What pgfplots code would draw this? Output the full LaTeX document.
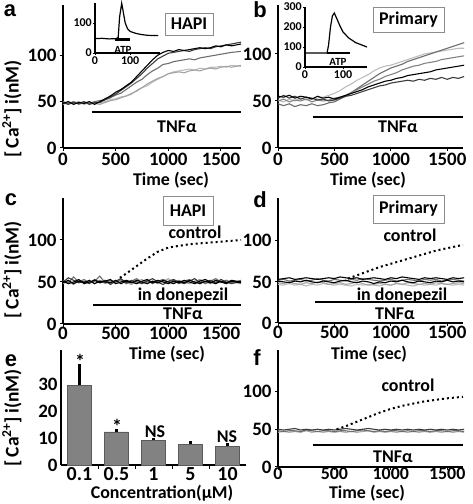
\documentclass[border=0pt]{standalone}
\usepackage{pgfplots}
\pgfplotsset{compat=1.18}
\usepackage{pgfplotstable}
\usepackage{fontspec}
\setmainfont{Carlito}
\newfontfamily\letterfont{Liberation Sans}
\newcommand{\fs}[1]{\fontsize{#1}{#1}\selectfont\bfseries}
\definecolor{g1}{HTML}{3C3C3C}
\definecolor{g2}{HTML}{6E6E6E}
\definecolor{g3}{HTML}{A4A4A4}
\definecolor{g4}{HTML}{BDBDBD}
\definecolor{barg}{HTML}{828282}
\definecolor{boxg}{HTML}{8C8C8C}

\pgfplotstableread{
t k d m la lb
0 48 49 50 47 49
50 50 47 48 49 47
100 47 49 50 48 50
150 49 48 47 50 48
200 48 50 49 47 49
250 50 47 48 49 47
300 47 49 50 48 48
350 50 49 51 47 49
400 53 52 52 49 50
450 56 55 54 51 52
500 60 58 57 52 53
550 63 62 59 54 55
600 67 66 63 56 56
650 71 70 67 58 59
700 77 75 71 62 61
750 83 80 74 65 65
800 89 86 79 69 67
850 95 91 83 72 71
900 100 96 86 75 74
950 103 99 90 77 77
1000 105 102 91 80 80
1050 104 103 93 81 82
1100 106 104 94 82 83
1150 105 105 95 81 84
1200 106 104 96 83 85
1250 107 106 95 84 84
1300 108 107 97 83 86
1350 107 108 98 85 85
1400 108 107 99 86 87
1450 110 109 100 85 87
1500 109 110 101 87 88
1550 111 111 102 88 87
1600 110 112 103 87 89
1690 112 114 104 89 88
}\tabA

\pgfplotstableread{
t k d m g l
0 55 53 47 50 51
50 54 56 45 52 49
100 56 53 47 49 52
150 53 55 44 51 50
200 55 52 46 50 53
250 54 54 45 52 51
300 52 53 47 49 52
350 55 51 45 51 53
400 53 52 46 50 54
450 54 50 48 51 56
500 52 51 49 53 58
550 54 53 52 54 61
600 56 55 55 56 65
650 58 56 59 59 68
700 60 58 63 62 72
750 62 60 67 65 75
800 65 62 71 68 78
850 67 64 75 71 82
900 69 66 79 73 85
950 71 67 82 76 87
1000 72 69 85 78 88
1050 74 70 87 80 90
1100 75 71 89 83 92
1150 77 72 92 85 94
1200 78 71 94 87 96
1250 79 73 96 88 98
1300 80 72 98 90 100
1350 81 74 100 91 101
1400 83 73 102 92 102
1450 84 75 104 94 103
1500 85 73 106 95 104
1550 86 75 108 96 105
1600 87 74 110 97 106
1650 88 76 112 98 106
}\tabB

\pgfplotstableread{
t ka kb d ga gb
0 49 51 50 52 48
50 52 48 55 49 51
100 48 50 52 56 47
150 51 53 49 50 52
200 49 48 51 53 49
250 52 50 48 49 51
300 48 52 53 51 48
350 51 49 50 57 52
400 50 51 52 49 48
450 49 53 47 52 51
500 52 48 51 50 49
550 48 50 54 53 52
600 51 52 49 48 50
650 49 50 52 51 47
700 52 48 50 54 51
750 50 51 48 49 53
800 48 53 51 52 49
850 51 49 54 48 51
900 49 52 50 51 48
950 52 50 47 53 51
1000 50 48 51 50 54
1050 48 51 53 52 49
1100 51 49 50 48 52
1150 49 52 48 51 50
1200 52 50 51 53 48
1250 50 48 54 49 51
1300 48 51 49 52 53
1350 51 53 50 48 50
1400 49 50 52 51 48
1450 52 48 49 54 51
1500 50 51 53 50 49
1550 48 49 50 52 52
1600 51 52 48 49 50
1690 49 50 51 52 48
}\tabC

\pgfplotstableread{
t ka kb ga gb gc
0 53 51 49 47 52
50 54 50 48 46 53
100 55 49 50 48 51
150 53 51 48 46 52
200 54 50 47 47 53
250 55 52 49 45 51
300 54 50 48 47 52
350 53 49 50 46 54
400 54 51 49 48 52
450 55 50 47 47 51
500 54 49 48 46 53
550 56 51 49 47 52
600 55 52 47 46 51
650 54 50 48 45 53
700 55 49 50 47 52
750 53 51 48 46 54
800 54 50 46 47 53
850 55 48 47 46 52
900 54 50 48 45 51
950 53 49 47 47 52
1000 55 51 46 46 53
1050 54 50 48 48 51
1100 56 52 47 47 52
1150 55 50 49 46 53
1200 54 49 48 45 52
1250 53 51 47 47 51
1300 55 50 48 46 53
1350 54 49 47 47 52
1400 55 51 49 46 53
1450 54 50 48 48 51
1500 53 52 47 47 52
1550 55 50 48 46 53
1600 54 51 49 47 52
1650 55 50 48 46 51
}\tabD

\pgfplotstableread{
t k d g
0 50 48 46
50 49 47 47
100 50 48 46
150 51 48 47
200 49 47 46
250 50 49 48
300 49 48 46
350 50 47 47
400 49 48 46
450 50 48 47
500 49 47 46
550 50 48 47
600 51 48 46
650 50 47 47
700 49 48 46
750 50 49 47
800 51 48 48
850 50 47 46
900 49 48 47
950 50 47 46
1000 49 48 47
1050 50 48 46
1100 49 47 47
1150 50 48 46
1200 49 47 47
1250 50 48 46
1300 49 48 47
1350 50 47 46
1400 49 48 47
1450 50 48 46
1500 49 47 47
1550 50 48 46
1600 49 48 47
1650 50 47 46
}\tabF

\pgfplotstableread{
x y err
0 29.8 7.9
1 12.4 0.9
2 9.3 0.8
3 7.7 1.1
4 7.1 1.0
}\tabE

\pgfplotsset{
 panel/.style={scale only axis, anchor=south west, axis lines=left,
   axis line style={line width=2.6bp,-}, tick style={black, line width=1bp},
   tick align=outside, major tick length=3bp, xmin=0, ymin=0,
   xtick={0,500,1000,1500}, ytick={0,50,100},
   tick label style={font=\fs{19}},
   /pgf/number format/assume math mode=true,
   /pgf/number format/set thousands separator={},
   xticklabel style={yshift=1bp}, clip=false},
 inset/.style={scale only axis, anchor=south west, axis lines=left,
   axis line style={line width=1.4bp,-}, tick style={black, line width=0.8bp},
   tick align=outside, major tick length=2bp, xmin=0, ymin=0,
   tick label style={font=\fs{12}, inner sep=1bp},
   /pgf/number format/assume math mode=true, clip=false},
 tr/.style={line width=1.1bp},
 ctrl/.style={black, line width=2bp, dash pattern=on 2bp off 3bp},
 tnf/.style={black, line width=1.6bp},
}

\begin{document}
\begin{tikzpicture}
\path[use as bounding box] (0,0) rectangle (473bp,504bp);

% ---------- a
\begin{axis}[panel, at={(63bp,356bp)}, width=178bp, height=143bp, xmax=1690, ymax=154]
\addplot[tr, g4] table[x=t,y=lb]{\tabA};
\addplot[tr, g3] table[x=t,y=la]{\tabA};
\addplot[tr, g2] table[x=t,y=m]{\tabA};
\addplot[tr, g1] table[x=t,y=d]{\tabA};
\addplot[tr, black] table[x=t,y=k]{\tabA};
\addplot[tnf] coordinates {(275,38.7) (1690,38.7)};
\end{axis}
\begin{axis}[inset, at={(95bp,451bp)}, width=65bp, height=50bp, xmax=185, ymax=167, xtick={0,100}, ytick={0,100}]
\addplot[black, line width=1.2bp] coordinates {(0,48)(20,49)(40,47)(60,48)(66,52)(70,120)(76,166)(80,140)(86,100)(93,80)(100,72)(115,66)(130,62)(150,59)(180,58)};
\addplot[black, line width=2.5bp] coordinates {(57,45)(100,45)};
\end{axis}

% ---------- b
\begin{axis}[panel, at={(278bp,356bp)}, width=185bp, height=143bp, xmax=1640, ymax=152]
\addplot[tr, g4] table[x=t,y=l]{\tabB};
\addplot[tr, g2] table[x=t,y=m]{\tabB};
\addplot[tr, g3!80!black] table[x=t,y=g]{\tabB};
\addplot[tr, g1] table[x=t,y=d]{\tabB};
\addplot[tr, black] table[x=t,y=k]{\tabB};
\addplot[tnf] coordinates {(310,33) (1640,33)};
\end{axis}
\begin{axis}[inset, at={(305bp,437bp)}, width=62bp, height=60bp, xmax=163, ymax=300, xtick={0,100}, ytick={0,100,200,300}]
\addplot[black, line width=1.2bp] coordinates {(0,70)(58,70)(62,110)(67,200)(72,255)(77,270)(84,240)(92,205)(100,175)(115,145)(133,122)(163,100)};
\addplot[black, line width=1.2bp] coordinates {(58,70)(118,70)};
\end{axis}

% ---------- c
\begin{axis}[panel, at={(63bp,180bp)}, width=178bp, height=126bp, xmax=1690, ymax=150,
  xticklabel style={yshift=2bp}]
\addplot[tr, g3] table[x=t,y=gb]{\tabC};
\addplot[tr, g2] table[x=t,y=ga]{\tabC};
\addplot[tr, g1] table[x=t,y=d]{\tabC};
\addplot[tr, black] table[x=t,y=kb]{\tabC};
\addplot[tr, black] table[x=t,y=ka]{\tabC};
\addplot[ctrl] coordinates {(540,55)(600,60)(700,69)(800,78)(900,86)(1000,91)(1100,93)(1200,95)(1300,96)(1400,97)(1500,98)(1690,100)};
\addplot[tnf] coordinates {(285,22.6) (1690,22.6)};
\end{axis}

% ---------- d
\begin{axis}[panel, at={(278bp,181bp)}, width=185bp, height=125bp, xmax=1640, ymax=152,
  xticklabel style={yshift=2bp}]
\addplot[tr, g4] table[x=t,y=gb]{\tabD};
\addplot[tr, g3] table[x=t,y=ga]{\tabD};
\addplot[tr, g2] table[x=t,y=gc]{\tabD};
\addplot[tr, black] table[x=t,y=kb]{\tabD};
\addplot[tr, black] table[x=t,y=ka]{\tabD};
\addplot[ctrl] coordinates {(620,54)(700,58)(800,63)(900,68)(1000,72)(1100,76)(1200,80)(1300,84)(1400,88)(1500,91)(1640,95)};
\addplot[tnf] coordinates {(330,25.6) (1640,25.6)};
\end{axis}

% ---------- e
\begin{axis}[panel, at={(61bp,39bp)}, width=185bp, height=115bp, xmin=-0.5, xmax=4.5, ymax=43,
  ytick={0,10,20,30}, xtick={0,1,2,3,4}, xticklabels={0.1,0.5,1,5,10},
  minor xtick={0.5,1.5,2.5,3.5}, minor tick length=4bp, major tick length=0bp,
  xticklabel style={font=\fs{20}, yshift=0bp}]
\addplot[ybar, bar width=24bp, fill=barg, draw=barg!70!black, line width=0.6bp,
  error bars/.cd, y dir=plus, y explicit, error mark=none,
  error bar style={line width=3bp, black}] table[x=x, y=y, y error=err]{\tabE};
\end{axis}

% ---------- f
\begin{axis}[panel, at={(278bp,37bp)}, width=185bp, height=117bp, xmax=1640, ymax=155,
  xticklabel style={yshift=5bp, font=\fs{18}}]
\addplot[tr, g3] table[x=t,y=g]{\tabF};
\addplot[tr, g2] table[x=t,y=d]{\tabF};
\addplot[tr, g1] table[x=t,y=k]{\tabF};
\addplot[ctrl] coordinates {(520,50)(600,54)(700,60)(800,66)(900,72)(1000,77)(1100,81)(1200,84)(1300,87)(1400,89)(1500,91)(1640,93)};
\addplot[tnf] coordinates {(310,29) (1640,29)};
\end{axis}

% ---------- texts
\begin{scope}[every node/.style={font=\fs{18}, inner sep=0pt}]
\node[font=\fs{19.5}, rotate=90] at (12bp,395bp) {[\,Ca\textsuperscript{2+}]\,i(nM)};
\node[font=\fs{19.5}, rotate=90] at (12bp,234bp) {[\,Ca\textsuperscript{2+}]\,i(nM)};
\node[font=\fs{19.5}, rotate=90] at (12bp,86bp) {[\,Ca\textsuperscript{2+}]\,i(nM)};
\node at (177bp,377bp) {TNFα};
\node at (398bp,377bp) {TNFα};
\node at (183bp,190bp) {TNFα};
\node at (395bp,190bp) {TNFα};
\node at (393bp,47bp) {TNFα};
\node at (183bp,208bp) {in donepezil};
\node at (402bp,208bp) {in donepezil};
\node at (195bp,272bp) {control};
\node at (410bp,269bp) {control};
\node at (408bp,119bp) {control};
\node at (171bp,324bp) {Time (sec)};
\node at (368bp,324bp) {Time (sec)};
\node at (167bp,150bp) {Time (sec)};
\node at (369bp,150bp) {Time (sec)};
\node at (367bp,10.5bp) {Time (sec)};
\node at (162bp,11bp) {Concentration(μM)};
\node[draw=boxg, line width=0.8bp, minimum width=48bp, minimum height=22bp] at (189bp,480bp) {HAPI};
\node[draw=boxg, line width=0.8bp, minimum width=71bp, minimum height=25bp] at (408.5bp,484.5bp) {Primary};
\node[draw=boxg, line width=0.8bp, minimum width=50bp, minimum height=29bp] at (188bp,293bp) {HAPI};
\node[draw=boxg, line width=0.8bp, minimum width=71bp, minimum height=28bp] at (408.5bp,295bp) {Primary};
\node[font=\fs{20}] at (80bp,143bp) {*};
\node[font=\fs{20}] at (117bp,78bp) {*};
\node at (155bp,72bp) {NS};
\node at (227bp,67bp) {NS};
\node[font=\fs{11}] at (123bp,454bp) {ATP};
\node[font=\fs{11}] at (338bp,442bp) {ATP};
\end{scope}
\begin{scope}[every node/.style={font=\letterfont\fontsize{22}{22}\selectfont\bfseries, inner sep=0pt}]
\node at (10bp,493bp) {a};
\node at (260bp,494bp) {b};
\node at (11bp,304bp) {c};
\node at (260bp,304bp) {d};
\node at (11bp,143bp) {e};
\node at (257bp,146bp) {f};
\end{scope}
\end{tikzpicture}
\end{document}
